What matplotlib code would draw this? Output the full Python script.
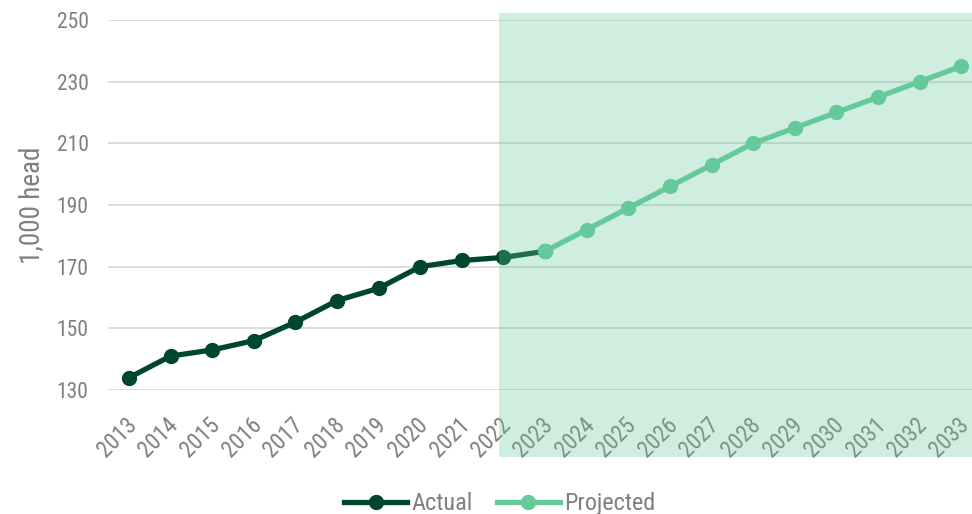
import matplotlib
matplotlib.use("Agg")
import matplotlib.pyplot as plt
from matplotlib.patches import Rectangle
from matplotlib.transforms import blended_transform_factory, ScaledTranslation

# Data
actual_years = [2013, 2014, 2015, 2016, 2017, 2018, 2019, 2020, 2021, 2022, 2023]
actual_vals = [134, 141, 143, 146, 152, 159, 163, 170, 172, 173, 175]
proj_years = [2023, 2024, 2025, 2026, 2027, 2028, 2029, 2030, 2031, 2032, 2033]
proj_vals = [175, 182, 189, 196, 203, 210, 215, 220, 225, 230, 235]
all_years = list(range(2013, 2034))
y_ticks = [130, 150, 170, 190, 210, 230, 250]
shade_from = 2022

dark = "#00462e"
light = "#66c999"
grey = "#7f7f7f"

plt.rcParams['font.family'] = ['Liberation Sans Narrow', 'Roboto Condensed', 'Liberation Sans', 'DejaVu Sans']

fig = plt.figure(figsize=(9.72, 5.14), dpi=100)
ax = fig.add_axes([108/972, 124/514, 864/972, 370/514])

ax.plot(actual_years, actual_vals, color=dark, lw=3.8, marker='o', ms=10, label='Actual', zorder=3)
ax.plot(proj_years, proj_vals, color=light, lw=3.8, marker='o', ms=10, label='Projected', zorder=4)

ax.set_xlim(2012.495, 2033.26)
ax.set_ylim(130, 250)
ax.set_yticks(y_ticks)
ax.set_xticks(all_years)
ax.set_xticklabels([str(y) for y in all_years], rotation=45, ha='right', va='top',
                   rotation_mode='anchor')
ax.tick_params(axis='both', length=0, colors=grey, labelsize=15.5)
ax.tick_params(axis='x', pad=17, labelsize=16.5)
ax.tick_params(axis='y', pad=14)
# nudge the rotated year labels a little to the left
shift = ScaledTranslation(-4/100, 0, fig.dpi_scale_trans)
for lbl in ax.get_xticklabels():
    lbl.set_transform(lbl.get_transform() + shift)
ax.grid(axis='y', color='#d9d9d9', lw=1.3)
ax.set_axisbelow(True)
for s in ax.spines.values():
    s.set_visible(False)
ax.set_ylabel('1,000 head', color=grey, fontsize=19.5, labelpad=8)

# projection shading drawn over the lines and labels
trans = blended_transform_factory(ax.transData, fig.transFigure)
ax.add_patch(Rectangle((shade_from - 0.1, 57/514), 30, 444/514, transform=trans,
                       facecolor=light, alpha=0.3, edgecolor='none',
                       clip_on=False, zorder=10))

fig.legend(loc='lower center', bbox_to_anchor=(0.514, -0.045), ncol=2, frameon=False,
           fontsize=17.5, labelcolor=grey, handlelength=2.6, handletextpad=0.15,
           columnspacing=1.0)

fig.savefig('out.png', dpi=100)
